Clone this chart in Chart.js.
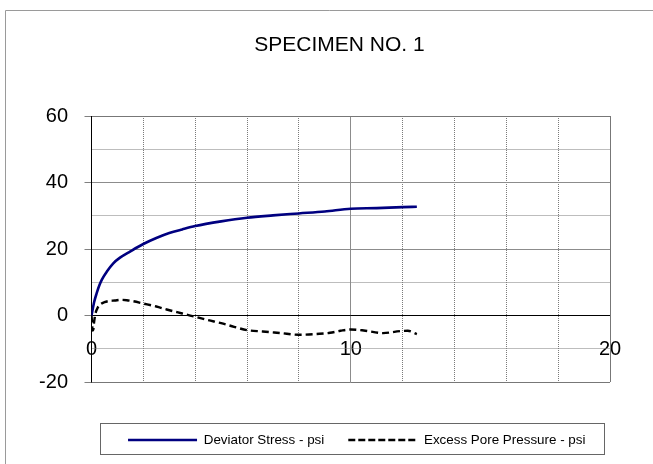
<!DOCTYPE html>
<html>
<head>
<meta charset="utf-8">
<title>Specimen No. 1</title>
<script src="https://cdn.jsdelivr.net/npm/chart.js@4/dist/chart.umd.min.js"></script>
<style>
  html, body { margin: 0; padding: 0; background: #fff; }
  #wrap { position: relative; width: 653px; height: 464px; }
</style>
</head>
<body>
<div id="wrap"><canvas id="chart"></canvas></div>
<script>
/* Triaxial test, specimen 1: deviator stress and excess pore pressure vs strain (%) */

// deviator stress curve
var devStrain = [0, 0.1, 0.2, 0.3, 0.4, 0.6, 0.84, 1.1, 1.5, 2.0, 2.5, 3.0, 3.5, 4.0,
                 5.0, 6.0, 7.0, 8.0, 9.0, 10.0, 11.0, 12.0, 12.55];
var devStress = [0, 4.0, 6.7, 9.0, 10.8, 13.3, 15.7, 17.4, 19.3, 21.5, 23.3, 24.8, 25.9, 26.9,
                 28.3, 29.4, 30.1, 30.7, 31.3, 32.1, 32.3, 32.6, 32.7];

// excess pore pressure curve
var poreStrain = [0, 0.02, 0.04, 0.07, 0.1, 0.15, 0.25, 0.35, 0.5, 0.7, 0.9, 1.1, 1.36, 1.6,
                  2.0, 2.5, 2.9, 3.5, 4.0, 4.5, 5.0, 5.5, 6.0, 6.6, 7.3, 8.0, 8.8, 9.2,
                  9.6, 10.0, 10.5, 11.25, 11.9, 12.2, 12.55];
var porePressure = [0, -2.0, -4.5, -4.2, -2.0, 0.5, 2.5, 3.4, 4.0, 4.4, 4.5, 4.7, 4.6, 4.3,
                    3.6, 2.7, 1.8, 0.6, -0.4, -1.4, -2.3, -3.4, -4.4, -4.8, -5.3, -5.8, -5.5, -5.2,
                    -4.6, -4.2, -4.5, -5.3, -4.7, -4.6, -5.6];

// grid positions
var yMajor = [20, 40];
var yMinor = [-10, 10, 30, 50];
var xMinor = [2, 4, 6, 8, 12, 14, 16, 18];
var xMajor = [10];

var FONT = "'Liberation Sans', Arial, sans-serif";

function pts(xs, ys) {
  return ys.map(function (v, i) { return { x: xs[i], y: v }; });
}
function half(p) { return Math.round(p - 0.5) + 0.5; }

// empty axis used only to reserve room next to the plot
function spacer(pos, size) {
  return {
    position: pos,
    display: true,
    grid: { display: false, drawTicks: false },
    border: { display: false },
    ticks: { display: false },
    afterFit: function (s) { if (pos === "right") s.width = size; else s.height = size; }
  };
}

// spreadsheet-style plot grid, outer frame and legend box
var sheetGrid = {
  id: "sheetGrid",
  afterLayout: function (chart) {
    // nudge legend row to the right a bit
    if (chart.legend) { chart.legend.left += 6; chart.legend.right += 6; }
  },
  beforeDatasetsDraw: function (chart) {
    var ctx = chart.ctx, a = chart.chartArea, x = chart.scales.x, y = chart.scales.y;
    function hl(v) { var p = half(y.getPixelForValue(v)); ctx.beginPath(); ctx.moveTo(a.left, p); ctx.lineTo(a.right, p); ctx.stroke(); }
    function vl(v) { var p = half(x.getPixelForValue(v)); ctx.beginPath(); ctx.moveTo(p, a.top); ctx.lineTo(p, a.bottom); ctx.stroke(); }
    ctx.save();
    ctx.lineWidth = 1;
    ctx.strokeStyle = "#7a7a7a";
    ctx.setLineDash([1, 1]);
    yMinor.forEach(hl);
    xMinor.forEach(vl);
    ctx.setLineDash([]);
    ctx.strokeStyle = "#8c8c8c";
    yMajor.forEach(hl);
    xMajor.forEach(vl);
    ctx.strokeStyle = "#777";
    hl(60); hl(-20); vl(20);
    ctx.strokeStyle = "#000";
    hl(0); vl(0);
    ctx.restore();
  },
  afterDraw: function (chart) {
    var ctx = chart.ctx;
    ctx.save();
    ctx.lineWidth = 1;
    ctx.strokeStyle = "#9a9a9a";
    ctx.beginPath();
    ctx.moveTo(5.5, chart.height + 2); ctx.lineTo(5.5, 10.5); ctx.lineTo(chart.width + 2, 10.5);
    ctx.stroke();
    var hb = chart.legend && chart.legend.legendHitBoxes;
    if (hb && hb.length) {
      var first = hb[0], last = hb[hb.length - 1];
      var cy = first.top + first.height / 2;
      var l = Math.round(first.left - 28) + 0.5;
      var r = Math.round(last.left + last.width + 19) + 0.5;
      ctx.strokeStyle = "#666";
      ctx.strokeRect(l, Math.round(cy - 17) + 0.5, r - l, 31);
    }
    ctx.restore();
  }
};

new Chart(document.getElementById("chart"), {
  type: "line",
  data: {
    datasets: [
      {
        label: "Deviator Stress - psi",
        data: pts(devStrain, devStress),
        xAxisID: "x", yAxisID: "y",
        borderColor: "#000080",
        backgroundColor: "#000080",
        borderWidth: 2.6,
        pointRadius: 0,
        cubicInterpolationMode: "monotone",
        fill: false
      },
      {
        label: "Excess Pore Pressure - psi",
        data: pts(poreStrain, porePressure),
        xAxisID: "x", yAxisID: "y",
        borderColor: "#000",
        backgroundColor: "#000",
        borderWidth: 2.4,
        borderDash: [7, 4],
        pointRadius: 0,
        cubicInterpolationMode: "monotone",
        fill: false
      }
    ]
  },
  options: {
    responsive: true,
    maintainAspectRatio: false,
    animation: false,
    layout: { padding: { top: 0, left: 26, right: 0, bottom: 7.3 } },
    scales: {
      x: {
        type: "linear",
        position: { y: 0 },
        min: 0, max: 20,
        grid: { display: false, drawTicks: false },
        border: { display: false },
        ticks: { stepSize: 10, padding: 21.5, color: "#000", font: { family: FONT, size: 20 } }
      },
      y: {
        position: "left",
        min: -20, max: 60,
        grid: { drawOnChartArea: false, drawTicks: true, tickLength: 7, tickColor: "#808080", color: "#808080" },
        border: { display: true, color: "#000", width: 1 },
        ticks: { stepSize: 20, padding: 16.5, color: "#000", font: { family: FONT, size: 20 } },
        afterFit: function (s) { s.width = 65.5; }
      },
      xGap: spacer("bottom", 27.3),
      yGap: spacer("right", 43)
    },
    plugins: {
      title: {
        display: true,
        text: "SPECIMEN NO. 1",
        color: "#000",
        font: { family: FONT, size: 21, weight: "normal" },
        padding: { top: 33, bottom: 57.8 }
      },
      legend: {
        position: "bottom",
        fullSize: false,
        labels: {
          usePointStyle: true,
          pointStyle: "line",
          pointStyleWidth: 69,
          padding: 24,
          color: "#000",
          font: { family: FONT, size: 13.4 },
          // point-style samples take the point's style; use the line's dash and width instead
          generateLabels: function (chart) {
            var items = Chart.defaults.plugins.legend.labels.generateLabels(chart);
            items.forEach(function (it) {
              var ds = chart.data.datasets[it.datasetIndex];
              it.lineDash = ds.borderDash ? [7, 3] : [];
              it.lineWidth = ds.borderWidth;
              it.strokeStyle = ds.borderColor;
            });
            return items;
          }
        }
      },
      tooltip: { enabled: false }
    }
  },
  plugins: [sheetGrid]
});
</script>
</body>
</html>
